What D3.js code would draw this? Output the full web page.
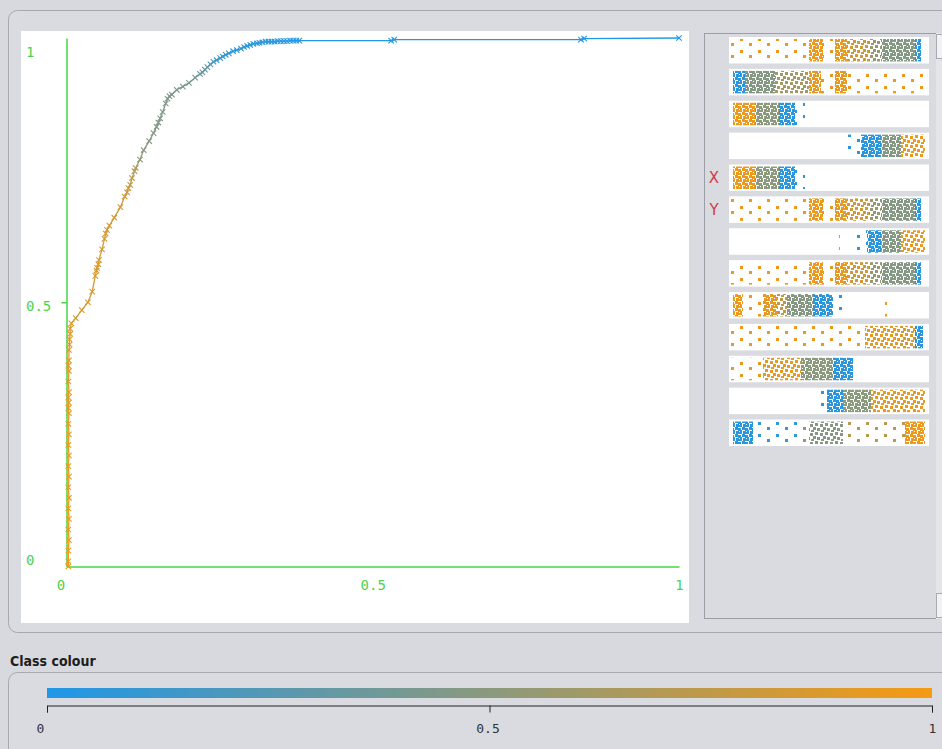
<!DOCTYPE html>
<html>
<head>
<meta charset="utf-8">
<script src="https://cdn.jsdelivr.net/npm/d3@7"></script>
<style>
  body { margin: 0; background: #d7d9de; }
  svg { display: block; }
</style>
</head>
<body>
<svg id="chart" width="942" height="749"></svg>
<script>
// ROC curve points: false positive rate, true positive rate, threshold (class colour)
const fpr = [
  0.003, 0.003, 0.003, 0.004, 0.003, 0.004, 0.003, 0.004, 0.003, 0.004,
  0.003, 0.004, 0.003, 0.004, 0.003, 0.004, 0.003, 0.004, 0.003, 0.004,
  0.003, 0.004, 0.003, 0.004, 0.004, 0.005, 0.005, 0.006, 0.006,
  0.008, 0.015, 0.025, 0.035, 0.042, 0.047, 0.049, 0.05, 0.052, 0.053,
  0.058, 0.062, 0.064, 0.066, 0.07, 0.078, 0.088, 0.095, 0.099, 0.101,
  0.104, 0.107, 0.111, 0.113, 0.12, 0.126, 0.135, 0.142, 0.147, 0.15,
  0.153, 0.157, 0.162, 0.165, 0.168, 0.172, 0.18, 0.19, 0.2, 0.21,
  0.218, 0.222, 0.226, 0.23, 0.235, 0.24, 0.245, 0.251, 0.255, 0.26,
  0.265, 0.272, 0.278, 0.285, 0.29, 0.295, 0.3, 0.305, 0.311, 0.315,
  0.32, 0.325, 0.33, 0.335, 0.34, 0.345, 0.35, 0.355, 0.36, 0.365,
  0.37, 0.375, 0.38, 0.53, 0.535, 0.84, 0.845, 1
];
const tpr = [
  0, 0.01, 0.03, 0.05, 0.07, 0.09, 0.11, 0.13, 0.15, 0.17,
  0.19, 0.21, 0.23, 0.25, 0.27, 0.29, 0.3, 0.31, 0.32, 0.33,
  0.35, 0.37, 0.38, 0.39, 0.41, 0.42, 0.43, 0.44, 0.45,
  0.46, 0.47, 0.485, 0.5, 0.52, 0.55, 0.56, 0.565, 0.572, 0.58,
  0.6, 0.62, 0.63, 0.637, 0.645, 0.66, 0.68, 0.7, 0.708, 0.716,
  0.722, 0.735, 0.748, 0.754, 0.77, 0.788, 0.805, 0.82, 0.832, 0.84,
  0.848, 0.86, 0.876, 0.885, 0.89, 0.893, 0.902, 0.908, 0.915, 0.925,
  0.932, 0.935, 0.94, 0.945, 0.95, 0.955, 0.958, 0.962, 0.965, 0.968,
  0.971, 0.975, 0.977, 0.98, 0.983, 0.985, 0.987, 0.989, 0.99, 0.991,
  0.992, 0.993, 0.993, 0.993, 0.993, 0.994, 0.994, 0.994, 0.994, 0.995,
  0.995, 0.995, 0.995, 0.995, 0.997, 0.997, 0.999, 1
];
const threshold = [
  1, 0.99, 0.99, 0.98, 0.98, 0.97, 0.97, 0.96, 0.96, 0.95,
  0.95, 0.95, 0.94, 0.94, 0.94, 0.93, 0.93, 0.93, 0.92, 0.92,
  0.92, 0.91, 0.91, 0.91, 0.9, 0.9, 0.9, 0.9, 0.89,
  0.88, 0.87, 0.86, 0.86, 0.85, 0.85, 0.85, 0.85, 0.85, 0.85,
  0.84, 0.84, 0.84, 0.84, 0.83, 0.83, 0.82, 0.8, 0.8, 0.78,
  0.76, 0.72, 0.7, 0.68, 0.55, 0.5, 0.48, 0.47, 0.46, 0.46,
  0.46, 0.45, 0.45, 0.45, 0.45, 0.44, 0.44, 0.43, 0.42, 0.4,
  0.38, 0.37, 0.33, 0.3, 0.25, 0.2, 0.15, 0.12, 0.11, 0.1,
  0.09, 0.08, 0.075, 0.07, 0.065, 0.06, 0.06, 0.055, 0.05, 0.05,
  0.05, 0.045, 0.04, 0.04, 0.04, 0.035, 0.03, 0.03, 0.03, 0.025,
  0.02, 0.02, 0.02, 0.01, 0.01, 0.005, 0.002, 0
];

const axisTicks = [0, 0.5, 1];
const axisTickLabels = ["0", "0.5", "1"];
const legendTicks = [0, 0.5, 1];
const legendTickLabels = ["0", "0.5", "1"];
const legendTitle = "Class colour";
const stripAxisLabels = { 4: "X", 5: "Y" };

// attribute strips: [from, to, class value, density]
const stripY = [
  [0.00, 0.40, 0.95, "s"], [0.40, 0.47, 0.95, "d"], [0.47, 0.53, 0.9, "s"],
  [0.53, 0.59, 0.92, "d"], [0.59, 0.70, 0.82, "m"], [0.70, 0.76, 0.55, "m"],
  [0.76, 0.93, 0.47, "d"], [0.93, 0.96, 0.05, "d"]
];
const stripX = [
  [0.02, 0.13, 0.95, "d"], [0.13, 0.25, 0.5, "d"], [0.25, 0.33, 0.05, "d"],
  [0.33, 0.38, 0.05, "s"]
];
const strip2 = [
  [0.02, 0.08, 0.05, "d"], [0.08, 0.23, 0.47, "d"], [0.23, 0.40, 0.62, "m"],
  [0.40, 0.46, 0.92, "d"], [0.46, 0.53, 0.9, "s"], [0.53, 0.59, 0.93, "d"],
  [0.59, 0.98, 0.95, "s"]
];
const strip4 = [
  [0.59, 0.66, 0.05, "s"], [0.66, 0.76, 0.05, "d"], [0.76, 0.86, 0.47, "d"],
  [0.86, 0.98, 0.95, "m"]
];
const strip7 = [
  [0.54, 0.55, 0.95, "s"], [0.62, 0.69, 0.05, "s"], [0.69, 0.76, 0.05, "d"],
  [0.76, 0.86, 0.47, "d"], [0.86, 0.98, 0.95, "m"]
];
const strip9 = [
  [0.02, 0.07, 0.95, "d"], [0.07, 0.17, 0.95, "s"], [0.17, 0.24, 0.92, "d"],
  [0.24, 0.29, 0.75, "m"], [0.29, 0.42, 0.48, "d"], [0.42, 0.52, 0.05, "d"],
  [0.52, 0.59, 0.05, "s"], [0.78, 0.80, 0.95, "s"]
];
const strip10 = [
  [0.00, 0.68, 0.95, "s"], [0.68, 0.86, 0.93, "m"], [0.86, 0.93, 0.85, "m"],
  [0.93, 0.97, 0.05, "d"]
];
const strip11 = [
  [0.00, 0.17, 0.93, "s"], [0.17, 0.36, 0.92, "m"], [0.36, 0.52, 0.5, "d"],
  [0.52, 0.62, 0.05, "d"], [0.62, 0.64, 0.05, "s"]
];
const strip12 = [
  [0.21, 0.22, 0.95, "s"], [0.43, 0.49, 0.05, "s"], [0.49, 0.57, 0.05, "d"],
  [0.57, 0.71, 0.5, "d"], [0.71, 0.98, 0.92, "m"]
];
const strip13 = [
  [0.02, 0.12, 0.05, "d"], [0.12, 0.35, 0.1, "s"], [0.35, 0.40, 0.5, "s"],
  [0.40, 0.57, 0.48, "m"], [0.57, 0.88, 0.7, "s"], [0.88, 0.98, 0.95, "d"]
];
const strips = [stripY, strip2, stripX, strip4, stripX, stripY, strip7,
                stripY, strip9, strip10, strip11, strip12, strip13];

const svg = d3.select("#chart");
const defs = svg.append("defs");
const colour = d3.scaleLinear().domain([0, 1]).range(["#1f97e8", "#f69a12"])
  .interpolate(d3.interpolateRgb);

// panels
svg.append("rect").attr("x", 8.5).attr("y", 10.5).attr("width", 960).attr("height", 622)
  .attr("rx", 9).attr("fill", "#d9dbe0").attr("stroke", "#a6a9af");
svg.append("rect").attr("x", 21).attr("y", 31).attr("width", 668).attr("height", 592)
  .attr("fill", "#ffffff");
svg.append("rect").attr("x", 704.5).attr("y", 33.5).attr("width", 232).attr("height", 585)
  .attr("fill", "#d9dbe0").attr("stroke", "#9b9ea4");
svg.append("rect").attr("x", 936).attr("y", 33).attr("width", 6).attr("height", 586)
  .attr("fill", "#e4e5e8");
svg.append("rect").attr("x", 936.5).attr("y", 34.5).attr("width", 8).attr("height", 24)
  .attr("fill", "#f2f2f4").attr("stroke", "#a9abb0");
svg.append("rect").attr("x", 936.5).attr("y", 593.5).attr("width", 8).attr("height", 24)
  .attr("fill", "#f2f2f4").attr("stroke", "#a9abb0");

// ROC plot
const x = d3.scaleLinear().domain([0, 1]).range([66.5, 679]);
const y = d3.scaleLinear().domain([0, 1]).range([566.5, 38]);
const green = "#46d646";

const xAxis = svg.append("g").attr("transform", `translate(0,${y(0)})`)
  .call(d3.axisBottom(x).tickValues(axisTicks).tickSize(0).tickSizeOuter(0)
    .tickFormat((d, i) => axisTickLabels[i]));
const yAxis = svg.append("g").attr("transform", `translate(${x(0)},0)`)
  .call(d3.axisLeft(y).tickValues(axisTicks).tickSize(5).tickSizeOuter(0)
    .tickFormat((d, i) => axisTickLabels[i]));
[xAxis, yAxis].forEach(g => {
  g.select(".domain").attr("stroke", green).attr("stroke-width", 1.5);
  g.selectAll(".tick line").attr("stroke", green).attr("stroke-width", 1.5);
  g.selectAll("text").attr("fill", "#4fd24f")
    .style("font-family", "'DejaVu Sans Mono', monospace").style("font-size", "14px");
});
yAxis.selectAll(".tick").filter(d => d !== 0.5).select("line").remove();
xAxis.selectAll("text").attr("y", 19).attr("dy", "0.32em")
  .attr("dx", d => d === 0 ? -6 : 0);
yAxis.selectAll("text").attr("text-anchor", "start").attr("x", 26 - x(0))
  .attr("dy", d => d === 1 ? "1.3em" : d === 0 ? "-0.15em" : "0.6em");

const pts = fpr.map((f, i) => ({ f, t: tpr[i], c: threshold[i] }));
const segs = pts.slice(1).map((p, i) => ({ a: pts[i], b: p }));
svg.append("g").selectAll("line").data(segs).join("line")
  .attr("x1", d => x(d.a.f)).attr("y1", d => y(d.a.t))
  .attr("x2", d => x(d.b.f)).attr("y2", d => y(d.b.t))
  .attr("stroke", d => colour(d.b.c)).attr("stroke-width", 1.3);
const m = 2.7;
svg.append("g").selectAll("path").data(pts).join("path")
  .attr("d", d => {
    const px = x(d.f), py = y(d.t);
    return `M${px - m},${py - m}L${px + m},${py + m}M${px - m},${py + m}L${px + m},${py - m}`;
  })
  .attr("stroke", d => colour(d.c)).attr("stroke-width", 1.1).attr("fill", "none");

// attribute strips
const sx = d3.scaleLinear().domain([0, 1]).range([729, 929]);
const sy = d3.scaleBand().domain(d3.range(strips.length)).range([37, 446]).paddingInner(0.17);
const tiles = {
  d: { w: 7, h: 7, dots: [[0, 0], [3, 1], [5, 3], [1, 4], [4, 5]] },
  m: { w: 10, h: 9, dots: [[0, 1], [5, 0], [3, 4], [7, 5], [1, 7]] },
  s: { w: 18, h: 12, dots: [[2, 2], [11, 7]] }
};
const stripSegs = strips.flatMap((row, r) => row.map((s, k) => ({
  r, x0: s[0], x1: s[1], c: s[2], d: s[3], id: `p${r}_${k}`
})));
const pat = defs.selectAll("pattern").data(stripSegs).join("pattern")
  .attr("id", d => d.id).attr("patternUnits", "userSpaceOnUse")
  .attr("width", d => tiles[d.d].w).attr("height", d => tiles[d.d].h);
pat.each(function (d) {
  d3.select(this).selectAll("rect").data(tiles[d.d].dots).join("rect")
    .attr("x", p => p[0]).attr("y", p => p[1]).attr("width", 3).attr("height", 3)
    .attr("fill", colour(d.c));
});
svg.append("g").selectAll("rect").data(strips).join("rect")
  .attr("x", sx(0)).attr("y", (d, i) => sy(i)).attr("width", sx(1) - sx(0))
  .attr("height", sy.bandwidth()).attr("fill", "#ffffff");
svg.append("g").selectAll("rect").data(stripSegs).join("rect")
  .attr("x", d => sx(d.x0)).attr("y", d => sy(d.r) + 2)
  .attr("width", d => Math.max(3, sx(d.x1) - sx(d.x0)))
  .attr("height", sy.bandwidth() - 4).attr("fill", d => `url(#${d.id})`);
svg.append("g").selectAll("text").data(Object.entries(stripAxisLabels)).join("text")
  .attr("x", 714).attr("y", d => sy(+d[0]) + sy.bandwidth() / 2)
  .attr("dy", "0.35em").attr("text-anchor", "middle")
  .attr("fill", "#d23a4a").style("font-family", "'DejaVu Sans', sans-serif")
  .style("font-size", "15px").text(d => d[1]);

// class colour legend
svg.append("text").attr("x", 10).attr("y", 666).text(legendTitle)
  .attr("fill", "#1d1d1d").style("font-family", "'DejaVu Sans Condensed', 'DejaVu Sans', sans-serif")
  .style("font-weight", "bold").style("font-size", "14px").style("font-stretch", "condensed");
svg.append("rect").attr("x", 8.5).attr("y", 672.5).attr("width", 960).attr("height", 100)
  .attr("rx", 9).attr("fill", "#d9dbe0").attr("stroke", "#a6a9af");
const lx = d3.scaleLinear().domain([0, 1]).range([47, 932]);
const grad = defs.append("linearGradient").attr("id", "legendGrad");
grad.selectAll("stop").data(d3.range(0, 1.01, 0.25)).join("stop")
  .attr("offset", d => d).attr("stop-color", d => colour(d));
svg.append("rect").attr("x", lx(0)).attr("y", 688).attr("width", lx(1) - lx(0))
  .attr("height", 10).attr("fill", "url(#legendGrad)");
const lAxis = svg.append("g").attr("transform", "translate(0,705.5)")
  .call(d3.axisBottom(lx).tickValues(legendTicks).tickSize(7).tickSizeOuter(7)
    .tickFormat((d, i) => legendTickLabels[i]));
lAxis.select(".domain").attr("stroke", "#222");
lAxis.selectAll(".tick line").attr("stroke", "#222");
lAxis.selectAll("text").attr("fill", "#333").attr("y", 18)
  .attr("dx", d => d === 0 ? -7 : d === 0.5 ? -2 : 0)
  .style("font-family", "'DejaVu Sans Mono', monospace").style("font-size", "13px");
</script>
</body>
</html>
